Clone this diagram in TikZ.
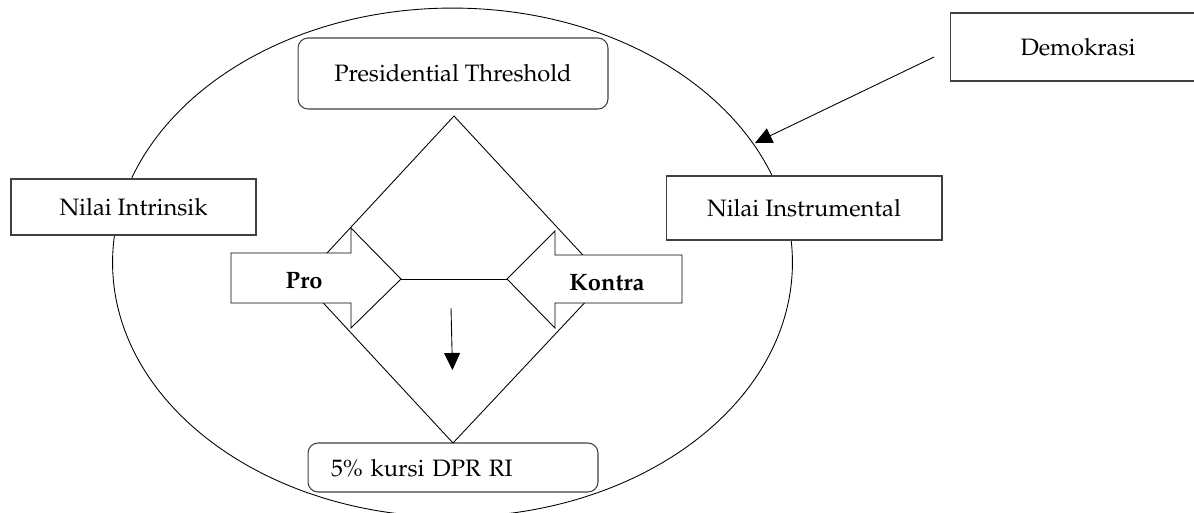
\documentclass[tikz,border=0pt]{standalone}
\usepackage[T1]{fontenc}
\renewcommand{\rmdefault}{ppl}
\usetikzlibrary{arrows.meta}

\begin{document}
\begin{tikzpicture}[x=0.02cm,y=-0.02cm,line width=0.5pt,
  box/.style={draw=black!75,fill=white,line width=0.6pt,inner sep=0pt,font=\fontsize{13.5}{16}\selectfont},
  rbox/.style={box,rounded corners=0.2cm},
  tag/.style={font=\fontsize{13.5}{16}\selectfont\bfseries},
  tip/.style={-{Triangle[length=0.34cm,width=0.32cm]}}]

\clip (0,0) rectangle (1194,512);

% outer ellipse
\draw (452.5,262.5) ellipse [x radius=6.8cm, y radius=5.09cm];

% the boxes
\node[rbox,minimum width=6.2cm,minimum height=1.42cm] (pt) at (453,73.5) {Presidential Threshold};
\node[box,minimum width=4.9cm,minimum height=1.12cm] (intr) at (133.5,207) {Nilai Intrinsik};
\node[box,minimum width=5.52cm,minimum height=1.28cm] (instr) at (804,208) {Nilai Instrumental};
\node[box,minimum width=5.12cm,minimum height=1.36cm] (demo) at (1078,47) {Demokrasi};
\node[rbox,minimum height=0.98cm,text width=4.88cm,inner xsep=0.46cm,align=left,text depth=-0.1cm] (dpr) at (453,467.5) {5\% kursi DPR RI};

% diamond
\coordinate (dt) at (454,116);
\coordinate (dr) at (606,280);
\coordinate (db) at (453,443);
\coordinate (dl) at (302,280);
\draw (dt) -- (dr) -- (db) -- (dl) -- cycle;

% pro / kontra
\coordinate (protip) at (401,279);
\coordinate (kontratip) at (507,279);
\draw[fill=white] (231,253) -- (351,253) -- (351,228) -- (protip) -- (351,328) -- (351,303) -- (231,303) -- cycle;
\draw[fill=white] (682,255) -- (555,255) -- (555,231) -- (kontratip) -- (555,328) -- (555,303) -- (682,303) -- cycle;
\draw (protip) -- (kontratip);
\node[tag] (pro) at (304,281) {Pro};
\node[tag] (kontra) at (607,283) {Kontra};

% arrows
\coordinate (mid) at (451,308);
\coordinate (midend) at (452.5,370);
\draw[tip] (mid) -- (midend);
\coordinate (demotail) at (934,57);
\coordinate (demohead) at (755,143);
\draw[tip] (demotail) -- (demohead);

\end{tikzpicture}
\end{document}
